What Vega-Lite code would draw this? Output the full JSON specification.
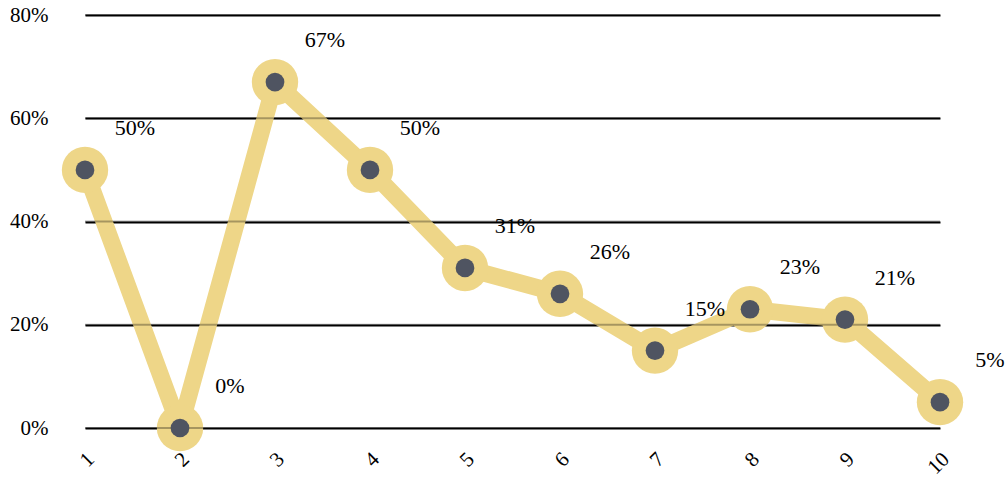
{
  "$schema": "https://vega.github.io/schema/vega-lite/v6.json",
  "width": 855,
  "height": 413,
  "autosize": {"type": "none"},
  "padding": {"left": 85, "top": 15, "right": 65, "bottom": 50},
  "background": "white",
  "config": {
    "view": {"stroke": null},
    "font": "Times New Roman",
    "axis": {"labelFont": "Times New Roman", "labelColor": "#000000"}
  },
  "datasets": {
    "pts": [
      {"x": "1", "v": 0.50, "label": "50%"},
      {"x": "2", "v": 0.00, "label": "0%"},
      {"x": "3", "v": 0.67, "label": "67%"},
      {"x": "4", "v": 0.50, "label": "50%"},
      {"x": "5", "v": 0.31, "label": "31%"},
      {"x": "6", "v": 0.26, "label": "26%"},
      {"x": "7", "v": 0.15, "label": "15%"},
      {"x": "8", "v": 0.23, "label": "23%"},
      {"x": "9", "v": 0.21, "label": "21%"},
      {"x": "10", "v": 0.05, "label": "5%"}
    ],
    "grid": [{"g": 0}, {"g": 0.2}, {"g": 0.4}, {"g": 0.6}, {"g": 0.8}]
  },
  "layer": [
    {
      "data": {"name": "pts"},
      "mark": {"type": "line", "color": "#eed688", "strokeWidth": 17, "strokeJoin": "round"},
      "encoding": {
        "x": {
          "field": "x", "type": "ordinal", "sort": null,
          "scale": {"type": "point", "padding": 0},
          "axis": {"title": null, "domain": false, "ticks": false, "grid": false, "labelAngle": -45, "labelFontSize": 21, "labelPadding": 20, "labelOffset": -2}
        },
        "y": {
          "field": "v", "type": "quantitative",
          "scale": {"domain": [0, 0.8]},
          "axis": {"title": null, "format": ".0%", "values": [0, 0.2, 0.4, 0.6, 0.8], "domain": false, "ticks": false, "grid": true, "gridColor": "#000000", "gridWidth": 2, "gridOpacity": 1, "labelFontSize": 21, "labelPadding": 37}
        }
      }
    },
    {
      "data": {"name": "pts"},
      "mark": {"type": "point", "filled": true, "shape": "circle", "size": 2150, "color": "#eed688", "opacity": 1},
      "encoding": {
        "x": {"field": "x", "type": "ordinal", "sort": null},
        "y": {"field": "v", "type": "quantitative"}
      }
    },
    {
      "data": {"name": "grid"},
      "mark": {"type": "rule", "color": "#000000", "strokeWidth": 2, "opacity": 0.3},
      "encoding": {
        "y": {"field": "g", "type": "quantitative"}
      }
    },
    {
      "data": {"name": "pts"},
      "mark": {"type": "point", "filled": true, "shape": "circle", "size": 350, "color": "#4f5461", "opacity": 1},
      "encoding": {
        "x": {"field": "x", "type": "ordinal", "sort": null},
        "y": {"field": "v", "type": "quantitative"}
      }
    },
    {
      "data": {"name": "pts"},
      "mark": {"type": "text", "dx": 50, "dy": -42, "fontSize": 22, "color": "#000000", "font": "Times New Roman"},
      "encoding": {
        "x": {"field": "x", "type": "ordinal", "sort": null},
        "y": {"field": "v", "type": "quantitative"},
        "text": {"field": "label"}
      }
    }
  ]
}
